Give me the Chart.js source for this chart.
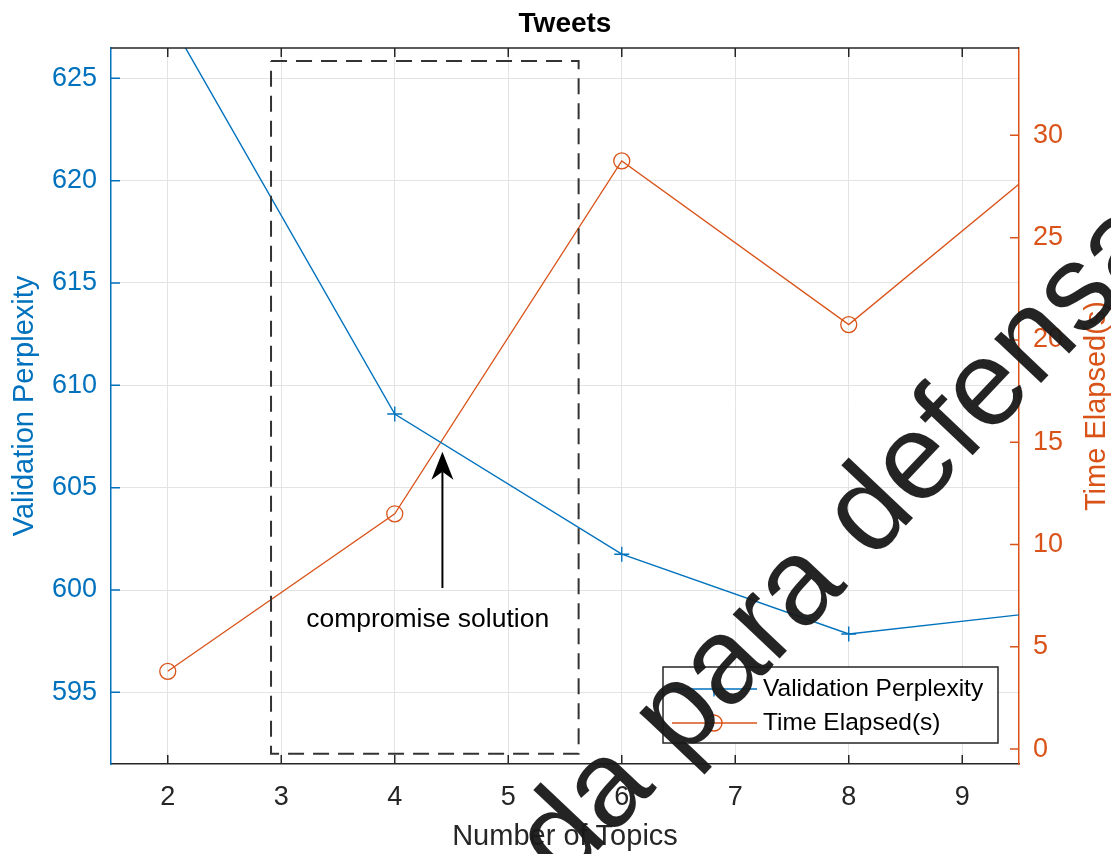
<!DOCTYPE html>
<html>
<head>
<meta charset="utf-8">
<title>Tweets</title>
<script src="https://cdn.jsdelivr.net/npm/chart.js@4.4.1/dist/chart.umd.min.js"></script>
<style>
	html, body { margin: 0; padding: 0; background: #fff; }
	canvas { display: block; }
</style>
</head>
<body>
<canvas id="myChart" width="1111" height="854"></canvas>
<script>
var topics = [2, 4, 6, 8, 10]
var perplexity = [628.0, 608.6, 601.75, 597.85, 599.1]
var timeElapsed = [3.8, 11.5, 28.75, 20.75, 29.9]

var xTicks = [2, 3, 4, 5, 6, 7, 8, 9]
var leftTicks = [595, 600, 605, 610, 615, 620, 625]
var rightTicks = [0, 5, 10, 15, 20, 25, 30]

// dashed box + arrow, in data units
var boxX = [2.91, 5.62]
var boxY = [592.0, 625.85]
var arrowX = 4.42
var arrowY = [600.1, 606.75]
var noteXY = [4.29, 598.55]
var noteText = 'compromise solution'
var watermark = 'da para defensa'

var FONT = "'Liberation Sans', Arial, sans-serif"
var BLUE = '#0072BD'
var ORANGE = '#D95319'
var DARK = '#262626'

Chart.defaults.font.family = FONT

function xy(xs, ys) {
	var out = []
	for (var i = 0; i < xs.length; i++) {
		out.push({ x: xs[i], y: ys[i] })
	}
	return out
}

var boxData = xy(
	[boxX[0], boxX[1], boxX[1], boxX[0], boxX[0]],
	[boxY[1], boxY[1], boxY[0], boxY[0], boxY[1]]
)

var extras = {
	id: 'extras',
	afterDraw: function(chart) {
		var c = chart.ctx
		var a = chart.chartArea
		var sx = chart.scales.x, yl = chart.scales.y, yr = chart.scales.y2
		c.save()

		// top border + inward ticks
		c.strokeStyle = DARK
		c.lineWidth = 1.5
		c.beginPath()
		c.moveTo(a.left, a.top)
		c.lineTo(a.right, a.top)
		xTicks.forEach(function(v) {
			var px = sx.getPixelForValue(v)
			c.moveTo(px, a.bottom)
			c.lineTo(px, a.bottom - 9)
			c.moveTo(px, a.top)
			c.lineTo(px, a.top + 9)
		})
		c.stroke()

		c.strokeStyle = BLUE
		c.beginPath()
		leftTicks.forEach(function(v) {
			var py = yl.getPixelForValue(v)
			c.moveTo(a.left, py)
			c.lineTo(a.left + 9, py)
		})
		c.stroke()

		c.strokeStyle = ORANGE
		c.beginPath()
		rightTicks.forEach(function(v) {
			var py = yr.getPixelForValue(v)
			c.moveTo(a.right, py)
			c.lineTo(a.right - 9, py)
		})
		c.stroke()

		// right axis title (reads bottom to top)
		c.save()
		c.translate(1097, (a.top + a.bottom) / 2)
		c.rotate(-Math.PI / 2)
		c.fillStyle = ORANGE
		c.font = '29px ' + FONT
		c.textAlign = 'center'
		c.textBaseline = 'middle'
		c.fillText('Time Elapsed(s)', 0, 0)
		c.restore()

		// arrow
		var ax = sx.getPixelForValue(arrowX)
		var ay0 = yl.getPixelForValue(arrowY[0])
		var ay1 = yl.getPixelForValue(arrowY[1])
		c.strokeStyle = '#000'
		c.lineWidth = 2
		c.beginPath()
		c.moveTo(ax, ay0)
		c.lineTo(ax, ay1 + 20)
		c.stroke()
		c.fillStyle = '#000'
		c.beginPath()
		c.moveTo(ax, ay1)
		c.lineTo(ax - 11, ay1 + 28)
		c.lineTo(ax, ay1 + 20)
		c.lineTo(ax + 11, ay1 + 28)
		c.closePath()
		c.fill()

		c.fillStyle = '#000'
		c.font = '26.5px ' + FONT
		c.textAlign = 'center'
		c.textBaseline = 'middle'
		c.fillText(noteText, sx.getPixelForValue(noteXY[0]), yl.getPixelForValue(noteXY[1]))

		// legend box
		var lw = 335, lh = 76
		var lx = a.right - 21 - lw, ly = a.bottom - 21 - lh
		c.fillStyle = '#fff'
		c.fillRect(lx, ly, lw, lh)
		c.strokeStyle = DARK
		c.lineWidth = 1.5
		c.strokeRect(lx, ly, lw, lh)
		var sets = chart.data.datasets
		for (var i = 0; i < 2; i++) {
			var ds = sets[i]
			var cy = ly + 22 + i * 34
			c.strokeStyle = ds.borderColor
			c.lineWidth = 1.4
			c.beginPath()
			c.moveTo(lx + 9, cy)
			c.lineTo(lx + 94, cy)
			if (ds.pointStyle == 'cross') {
				c.moveTo(lx + 51, cy - 7.5)
				c.lineTo(lx + 51, cy + 7.5)
			}
			c.stroke()
			if (ds.pointStyle == 'circle') {
				c.beginPath()
				c.arc(lx + 51, cy, 8, 0, Math.PI * 2)
				c.stroke()
			}
			c.fillStyle = '#000'
			c.font = '24.5px ' + FONT
			c.textAlign = 'left'
			c.textBaseline = 'middle'
			c.fillText(ds.label, lx + 100, cy)
		}

		// watermark over everything, anchored on the centre of the "s"
		var em = 122
		c.save()
		c.translate(1080, 296)
		c.rotate(-46.5 * Math.PI / 180)
		c.fillStyle = 'rgba(24,24,24,0.95)'
		c.font = em + 'px ' + FONT
		c.textAlign = 'left'
		c.textBaseline = 'alphabetic'
		var before = c.measureText('da para defen').width
		c.fillText(watermark, -(before + 0.25 * em), 0.26 * em)
		c.restore()

		c.restore()
	}
}

var ctx = document.getElementById('myChart')

window.myChart = new Chart(ctx, {
	type: 'line',
	data: {
		datasets: [{
			label: 'Validation Perplexity',
			data: xy(topics, perplexity),
			yAxisID: 'y',
			borderColor: BLUE,
			borderWidth: 1.4,
			pointStyle: 'cross',
			pointRadius: 7.5,
			pointBorderColor: BLUE,
			pointBorderWidth: 1.4,
			fill: false
		}, {
			label: 'Time Elapsed(s)',
			data: xy(topics, timeElapsed),
			yAxisID: 'y2',
			borderColor: ORANGE,
			borderWidth: 1.3,
			pointStyle: 'circle',
			pointRadius: 8,
			pointBorderColor: ORANGE,
			pointBackgroundColor: 'rgba(0,0,0,0)',
			pointBorderWidth: 1.3,
			fill: false
		}, {
			label: 'box',
			data: boxData,
			yAxisID: 'y',
			borderColor: '#333333',
			borderWidth: 2,
			borderDash: [16, 9],
			pointRadius: 0,
			fill: false,
			order: -1
		}]
	},
	options: {
		responsive: false,
		animation: false,
		events: [],
		layout: { padding: 0 },
		plugins: {
			legend: { display: false },
			tooltip: { enabled: false },
			title: {
				display: true,
				text: 'Tweets',
				color: '#000',
				fullSize: false,
				font: { size: 28, weight: 'bold', lineHeight: 1.2 },
				padding: { top: 7, bottom: 7.4 }
			}
		},
		scales: {
			x: {
				type: 'linear',
				min: 1.5,
				max: 9.5,
				afterBuildTicks: function(s) { s.ticks = xTicks.map(function(v) { return { value: v } }) },
				afterFit: function(s) { s.height = 90 },
				grid: { color: '#e3e3e3', drawTicks: false },
				border: { color: DARK, width: 1.5 },
				ticks: { color: DARK, font: { size: 27 }, padding: 17, maxRotation: 0 },
				title: {
					display: true,
					text: 'Number of Topics',
					color: DARK,
					font: { size: 29, lineHeight: 1 },
					padding: { top: 0, bottom: 2.5 }
				}
			},
			y: {
				type: 'linear',
				position: 'left',
				min: 591.5,
				max: 626.48,
				afterBuildTicks: function(s) { s.ticks = leftTicks.map(function(v) { return { value: v } }) },
				afterFit: function(s) { s.width = 111 },
				grid: { color: '#e3e3e3', drawTicks: false },
				border: { color: BLUE, width: 1.5 },
				ticks: { color: BLUE, font: { size: 27 }, padding: 14 },
				title: {
					display: true,
					text: 'Validation Perplexity',
					color: BLUE,
					font: { size: 29, lineHeight: 1 },
					padding: { top: 10, bottom: 0 }
				}
			},
			y2: {
				type: 'linear',
				position: 'right',
				min: -0.73,
				max: 34.27,
				afterBuildTicks: function(s) { s.ticks = rightTicks.map(function(v) { return { value: v } }) },
				afterFit: function(s) { s.width = 92 },
				grid: { display: false, drawTicks: false },
				border: { display: true, color: ORANGE, width: 1.5 },
				ticks: { color: ORANGE, font: { size: 27 }, padding: 14 }
			}
		}
	},
	plugins: [extras]
})
</script>
</body>
</html>
